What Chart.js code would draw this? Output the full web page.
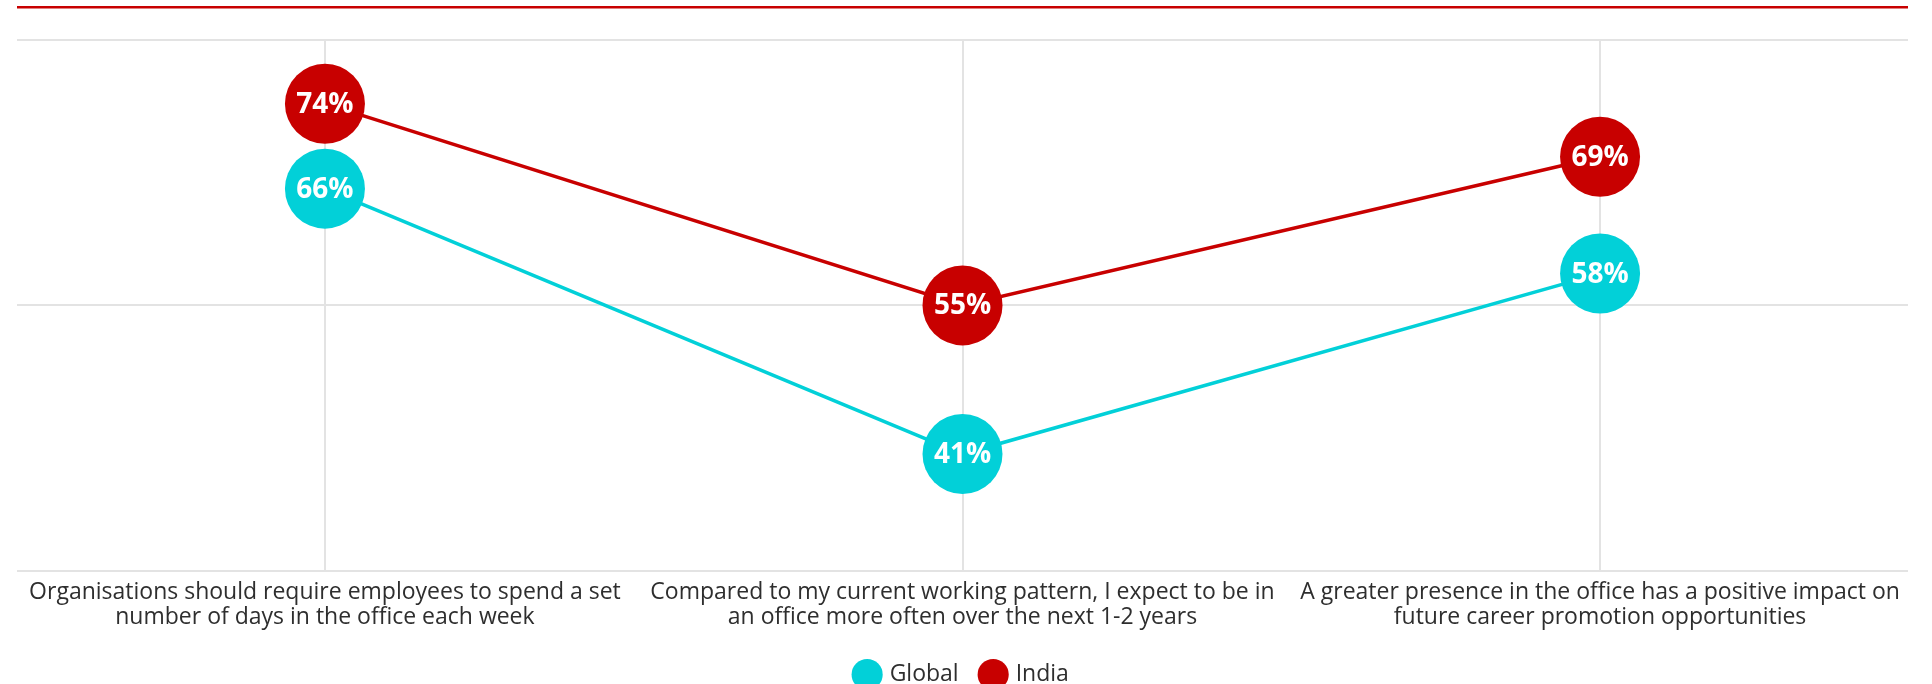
<!DOCTYPE html>
<html>
<head>
<meta charset="utf-8">
<script src="https://cdn.jsdelivr.net/npm/chart.js@4.4.1/dist/chart.umd.min.js"></script>
<style>
  html, body { margin: 0; padding: 0; background: #fff; }
  #wrap { position: relative; width: 1932px; height: 684px; }
</style>
</head>
<body>
<div id="wrap"><canvas id="officeChart" width="1932" height="684"></canvas></div>
<script>
// categorias (etiquetas en dos lineas)
const categorias = [
    ['Organisations should require employees to spend a set', 'number of days in the office each week'],
    ['Compared to my current working pattern, I expect to be in', 'an office more often over the next 1-2 years'],
    ['A greater presence in the office has a positive impact on', 'future career promotion opportunities']
];
const globalValores = [66, 41, 58];
const indiaValores = [74, 55, 69];
const yTicks = [30, 55, 80];

const ROJO = '#c80000';
const CIAN = '#02d0d8';

// pasar a {x, y} para el eje lineal
function puntos(valores) {
    return valores.map((v, i) => ({ x: i, y: v }));
}

// Texto blanco dentro de cada circulo + linea roja superior
const etiquetasPlugin = {
    id: 'etiquetas',
    beforeDraw(chart) {
        const ctx = chart.ctx;
        const area = chart.chartArea;
        ctx.save();
        ctx.fillStyle = ROJO;
        ctx.fillRect(area.left, 6, area.right - area.left, 2.5);
        ctx.restore();
    },
    afterDatasetsDraw(chart) {
        const ctx = chart.ctx;
        ctx.save();
        ctx.font = 'bold 28px "Open Sans"';
        ctx.fillStyle = '#ffffff';
        ctx.textAlign = 'center';
        ctx.textBaseline = 'middle';
        chart.data.datasets.forEach((ds, i) => {
            const meta = chart.getDatasetMeta(i);
            meta.data.forEach((el, j) => {
                ctx.fillText(ds.data[j].y + '%', el.x, el.y + 1);
            });
        });
        ctx.restore();
    }
};

const ctx = document.getElementById('officeChart');
const officeChart = new Chart(ctx, {
    type: 'line',
    data: {
        datasets: [
            {
                label: 'Global',
                data: puntos(globalValores),
                borderColor: CIAN,
                backgroundColor: CIAN,
                borderWidth: 3.5,
                pointRadius: 40,
                pointHoverRadius: 40,
                pointBorderWidth: 0,
                pointBackgroundColor: CIAN
            },
            {
                label: 'India',
                data: puntos(indiaValores),
                borderColor: ROJO,
                backgroundColor: ROJO,
                borderWidth: 3.5,
                pointRadius: 40,
                pointHoverRadius: 40,
                pointBorderWidth: 0,
                pointBackgroundColor: ROJO
            }
        ]
    },
    options: {
        responsive: false,
        animation: false,
        clip: false,
        layout: {
            autoPadding: false,
            padding: { top: 40, left: 17, right: 24, bottom: -12 }
        },
        scales: {
            x: {
                type: 'linear',
                min: -0.483,
                max: 2.483,
                afterBuildTicks: function(axis) {
                    axis.ticks = categorias.map((c, i) => ({ value: i }));
                },
                // sin relleno extra por las etiquetas largas de los extremos
                afterFit: function(axis) {
                    axis.paddingLeft = 0;
                    axis.paddingRight = 0;
                },
                ticks: {
                    autoSkip: false,
                    maxRotation: 0,
                    padding: 9.5,
                    color: '#2e2e2e',
                    font: { family: '"Open Sans"', size: 23, lineHeight: 1.08 },
                    callback: function(value) {
                        return categorias[value];
                    }
                },
                grid: { color: '#e3e3e3', lineWidth: 2, drawTicks: false },
                border: { display: false }
            },
            y: {
                min: 30,
                max: 80,
                afterBuildTicks: function(axis) {
                    axis.ticks = yTicks.map(v => ({ value: v }));
                },
                ticks: { display: false },
                grid: { color: '#e3e3e3', lineWidth: 2, drawTicks: false },
                border: { display: false }
            }
        },
        plugins: {
            legend: {
                position: 'bottom',
                labels: {
                    usePointStyle: true,
                    pointStyle: 'circle',
                    boxWidth: 22,
                    boxHeight: 22,
                    padding: 23.5,
                    color: '#2e2e2e',
                    font: { family: '"Open Sans"', size: 23 }
                }
            },
            tooltip: { enabled: false }
        }
    },
    plugins: [etiquetasPlugin]
});
</script>
</body>
</html>
